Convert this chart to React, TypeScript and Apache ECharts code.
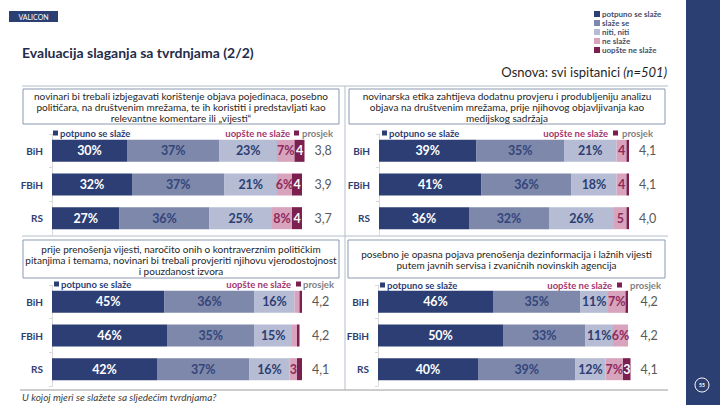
import React, { useEffect, useRef } from "react";
import * as echarts from "echarts";

const categories = ["BiH", "FBiH", "RS"];
const seriesNames = ["potpuno se slaže", "slaže se", "niti, niti", "ne slaže", "uopšte ne slaže"];

// Panel 1
const p1Potpuno = [30, 32, 27];
const p1Slaze = [37, 37, 36];
const p1Niti = [23, 21, 25];
const p1Ne = [7, 6, 8];
const p1Uopste = [4, 4, 4];
const p1Avg = ["3,8", "3,9", "3,7"];
// Panel 2
const p2Potpuno = [39, 41, 36];
const p2Slaze = [35, 36, 32];
const p2Niti = [21, 18, 26];
const p2Ne = [4, 4, 5];
const p2Uopste = [1, 1, 1];
const p2Avg = ["4,1", "4,1", "4,0"];
// Panel 3
const p3Potpuno = [45, 46, 42];
const p3Slaze = [36, 35, 37];
const p3Niti = [16, 15, 16];
const p3Ne = [2, 2, 3];
const p3Uopste = [1, 1, 2];
const p3Avg = ["4,2", "4,2", "4,1"];
// Panel 4
const p4Potpuno = [46, 50, 40];
const p4Slaze = [35, 33, 39];
const p4Niti = [11, 11, 12];
const p4Ne = [7, 6, 7];
const p4Uopste = [1, 0, 3];
const p4Avg = ["4,2", "4,2", "4,1"];

const questions = [
  "novinari bi trebali izbjegavati korištenje objava pojedinaca, posebno\npolitičara, na društvenim mrežama, te ih koristiti i predstavljati kao\nrelevantne komentare ili „vijesti“",
  "novinarska etika zahtijeva dodatnu provjeru i produbljeniju analizu\nobjava na društvenim mrežama, prije njihovog objavljivanja kao\nmedijskog sadržaja",
  "prije prenošenja vijesti, naročito onih o kontraverznim političkim\npitanjima i temama, novinari bi trebali provjeriti njihovu vjerodostojnost\ni pouzdanost izvora",
  "posebno je opasna pojava prenošenja dezinformacija i lažnih vijesti\nputem javnih servisa i zvaničnih novinskih agencija",
];

const title = "Evaluacija slaganja sa tvrdnjama (2/2)";
const footer = "U kojoj mjeri se slažete sa sljedećim tvrdnjama?";

const colors = ["#2c3e73", "#7d88ab", "#b6bcd3", "#d8a4bd", "#7b1f4e"];
const labelColors = ["#ffffff", "#34457a", "#2c3e73", "#8e2a5c", "#ffffff"];

const panels = [
  { data: [p1Potpuno, p1Slaze, p1Niti, p1Ne, p1Uopste], avg: p1Avg },
  { data: [p2Potpuno, p2Slaze, p2Niti, p2Ne, p2Uopste], avg: p2Avg },
  { data: [p3Potpuno, p3Slaze, p3Niti, p3Ne, p3Uopste], avg: p3Avg },
  { data: [p4Potpuno, p4Slaze, p4Niti, p4Ne, p4Uopste], avg: p4Avg },
];

const FONT = "Lato";

export default function App() {
  const ref = useRef<HTMLDivElement>(null);
  useEffect(() => {
    if (!ref.current) return;
    const chart = echarts.init(ref.current, undefined, { renderer: "svg" });

    const pxPerPct = 2.5;
    const gridPos = [
      { left: 52, top: 134 },
      { left: 379, top: 134 },
      { left: 52, top: 285 },
      { left: 378, top: 285 },
    ];

    const grids: any[] = [];
    const xAxes: any[] = [];
    const yAxes: any[] = [];
    const series: any[] = [];

    panels.forEach((p, i) => {
      const sums = categories.map((_, c) => p.data.reduce((a, s) => a + s[c], 0));
      const maxSum = Math.max(...sums);
      grids.push({
        left: gridPos[i].left,
        top: gridPos[i].top,
        width: maxSum * pxPerPct,
        height: 101,
      });
      xAxes.push({
        type: "value",
        gridIndex: i,
        min: 0,
        max: maxSum,
        show: false,
      });
      yAxes.push({
        type: "category",
        gridIndex: i,
        data: categories,
        inverse: true,
        axisLine: { show: true, lineStyle: { color: "#d9d9d9" } },
        axisTick: { show: true, length: 3, lineStyle: { color: "#d9d9d9" } },
        axisLabel: {
          color: "#2c3e73",
          fontWeight: "bold",
          fontSize: 10,
          fontFamily: FONT,
          margin: 9,
        },
      });
      yAxes.push({
        type: "category",
        gridIndex: i,
        position: "right",
        data: p.avg,
        inverse: true,
        axisLine: { show: false },
        axisTick: { show: false },
        axisLabel: {
          color: "#595959",
          fontSize: 12.5,
          fontFamily: FONT,
          margin: 10,
        },
      });
      p.data.forEach((arr, s) => {
        series.push({
          type: "bar",
          name: seriesNames[s],
          xAxisIndex: i,
          yAxisIndex: i * 2,
          stack: "p" + i,
          barWidth: 22,
          data: arr,
          itemStyle: { color: colors[s] },
          label: {
            show: true,
            position: "inside",
            color: labelColors[s],
            fontWeight: "bold",
            fontSize: 12.5,
            fontFamily: FONT,
            formatter: (d: any) => {
              const v = d.value;
              if (v >= 6) return v + "%";
              if (v >= 3) return String(v);
              return "";
            },
          },
        });
      });
    });

    const graphic: any[] = [];
    // sidebar
    graphic.push({ type: "rect", shape: { x: 686, y: 0, width: 34, height: 405 }, style: { fill: "#2b3f73" } });
    graphic.push({ type: "circle", shape: { cx: 702, cy: 385, r: 7 }, style: { fill: "none", stroke: "#ffffff", lineWidth: 1 } });
    graphic.push({ type: "text", x: 702, y: 385, style: { text: "55", fill: "#ffffff", font: "bold 5px " + FONT, align: "center", verticalAlign: "middle" } });
    // logo
    graphic.push({ type: "rect", shape: { x: 9, y: 11, width: 49, height: 11 }, style: { fill: "#2b3f73" } });
    graphic.push({ type: "text", x: 33.5, y: 16.5, style: { text: "VALICON", fill: "#ffffff", font: "7px " + FONT, align: "center", verticalAlign: "middle" } });
    // title
    graphic.push({ type: "text", x: 22, y: 52, style: { text: title, fill: "#1f2d4a", font: "bold 14px " + FONT, align: "left", verticalAlign: "middle" } });
    // top legend
    const legY = [14, 23, 32, 41, 50];
    seriesNames.forEach((n, s) => {
      graphic.push({ type: "rect", shape: { x: 594, y: legY[s] - 3, width: 6, height: 6 }, style: { fill: colors[s] } });
      graphic.push({ type: "text", x: 602, y: legY[s], style: { text: n, fill: "#44506e", font: "bold 8px " + FONT, align: "left", verticalAlign: "middle" } });
    });
    // Osnova
    graphic.push({
      type: "text",
      x: 667,
      y: 72,
      style: {
        text: "Osnova: svi ispitanici {i|(n=501)}",
        fill: "#1f1f1f",
        font: "13px " + FONT,
        align: "right",
        verticalAlign: "middle",
        rich: { i: { fontStyle: "italic", fontSize: 13, fontFamily: FONT, fill: "#1f1f1f" } },
      },
    });
    // frame lines
    const lineStyle = { stroke: "#b4bccb", lineWidth: 1 };
    graphic.push({ type: "line", shape: { x1: 22, y1: 86, x2: 668, y2: 86 }, style: lineStyle });
    graphic.push({ type: "line", shape: { x1: 22, y1: 236, x2: 668, y2: 236 }, style: lineStyle });
    graphic.push({ type: "line", shape: { x1: 20, y1: 390, x2: 668, y2: 390 }, style: { stroke: "#9a9a9a", lineWidth: 1 } });
    graphic.push({ type: "line", shape: { x1: 345, y1: 86, x2: 345, y2: 390 }, style: lineStyle });

    // question boxes
    const boxes = [
      { x: 23, y: 89, w: 316, h: 35 },
      { x: 349, y: 89, w: 316, h: 35 },
      { x: 23, y: 240, w: 316, h: 38 },
      { x: 348, y: 240, w: 317, h: 38 },
    ];
    boxes.forEach((b, i) => {
      graphic.push({ type: "rect", shape: { x: b.x, y: b.y, width: b.w, height: b.h }, style: { fill: "#ffffff", stroke: "#8a99b0", lineWidth: 1 } });
      graphic.push({
        type: "text",
        x: b.x + b.w / 2,
        y: b.y + b.h / 2 + 0.5,
        style: {
          text: questions[i],
          fill: "#262626",
          font: "10px " + FONT,
          lineHeight: 11,
          align: "center",
          verticalAlign: "middle",
        },
      });
    });

    // panel legends
    const pl = [
      { y: 133, sq: 53, ue: 290, sq2: 294, pr: 302 },
      { y: 133, sq: 382, ue: 608, sq2: 613, pr: 622 },
      { y: 284, sq: 54, ue: 291, sq2: 296, pr: 303 },
      { y: 285, sq: 380, ue: 612, sq2: 617, pr: 630 },
    ];
    pl.forEach((l) => {
      graphic.push({ type: "rect", shape: { x: l.sq, y: l.y - 2.5, width: 5, height: 5 }, style: { fill: colors[0] } });
      graphic.push({ type: "text", x: l.sq + 7, y: l.y, style: { text: seriesNames[0], fill: "#2c3e73", font: "bold 9.5px " + FONT, align: "left", verticalAlign: "middle" } });
      graphic.push({ type: "text", x: l.ue, y: l.y, style: { text: seriesNames[4], fill: "#a3366e", font: "bold 9.5px " + FONT, align: "right", verticalAlign: "middle" } });
      graphic.push({ type: "rect", shape: { x: l.sq2, y: l.y - 2.5, width: 5, height: 5 }, style: { fill: colors[4] } });
      graphic.push({ type: "text", x: l.pr, y: l.y, style: { text: "prosjek", fill: "#7f7f7f", font: "bold 9.5px " + FONT, align: "left", verticalAlign: "middle" } });
    });

    // footer
    graphic.push({ type: "text", x: 22, y: 397, style: { text: footer, fill: "#404040", font: "italic 10px " + FONT, align: "left", verticalAlign: "middle" } });

    chart.setOption({
      animation: false,
      textStyle: { fontFamily: FONT },
      grid: grids,
      xAxis: xAxes,
      yAxis: yAxes,
      series,
      graphic: { elements: graphic },
    });
    return () => chart.dispose();
  }, []);

  return (
    <div
      ref={ref}
      style={{ position: "fixed", left: 0, top: 0, width: 720, height: 405, background: "#ffffff" }}
    />
  );
}
